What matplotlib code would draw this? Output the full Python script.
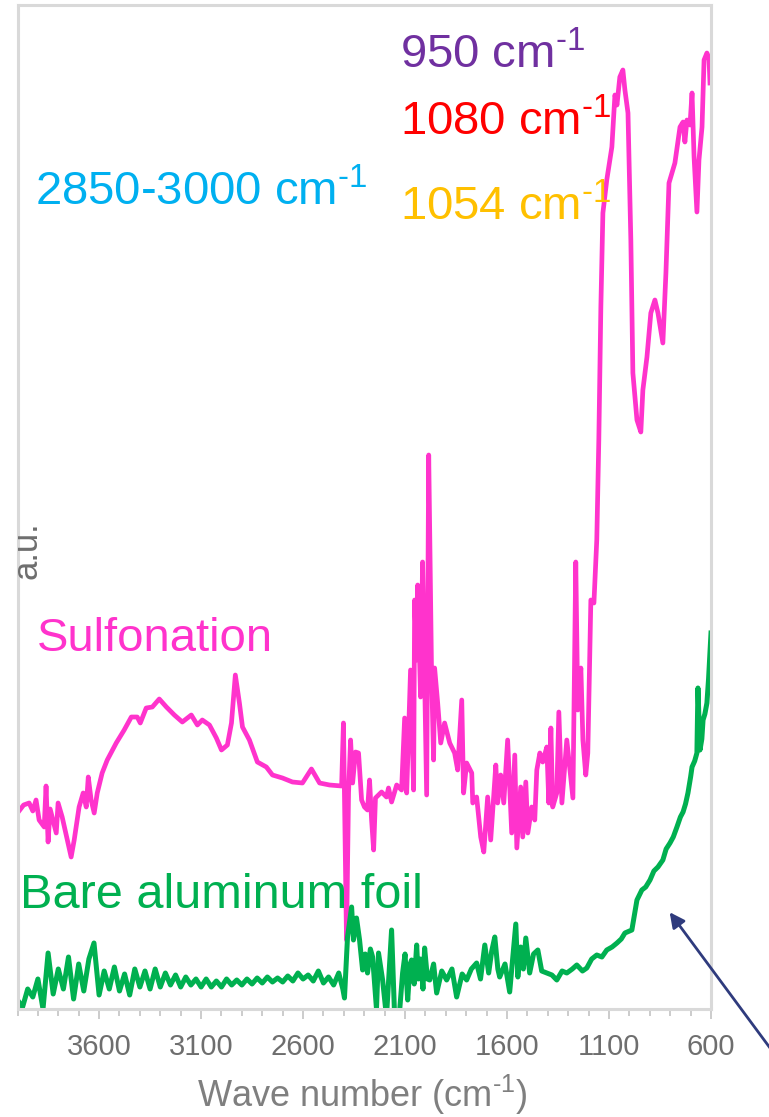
import numpy as np
import matplotlib.pyplot as plt

plt.rcParams['font.family'] = ['Liberation Sans', 'DejaVu Sans']
plt.rcParams['mathtext.fontset'] = 'custom'
plt.rcParams['mathtext.rm'] = 'Liberation Sans'
plt.rcParams['mathtext.it'] = 'Liberation Sans'

# sulfonated sample (wave number, a.u.)
sulf_wn = [4000, 3985, 3970, 3943, 3925, 3909, 3894, 3869, 3860, 3850, 3840, 3830, 3810, 3801,
           3781, 3756, 3737, 3722, 3698, 3678, 3663, 3653, 3639, 3624, 3609, 3585, 3560, 3516,
           3477, 3442, 3413, 3398, 3369, 3339, 3305, 3270, 3231, 3192, 3148, 3118, 3094, 3059,
           3025, 3000, 2971, 2951, 2932, 2912, 2897, 2863, 2824, 2780, 2750, 2701, 2652, 2603,
           2559, 2519, 2470, 2411, 2402, 2387, 2377, 2367, 2357, 2343, 2328, 2313, 2299, 2284,
           2274, 2264, 2254, 2245, 2215, 2191, 2181, 2166, 2141, 2117, 2102, 2092, 2073, 2058,
           2053, 2043, 2038, 2024, 2014, 1994, 1984, 1970, 1960, 1955, 1940, 1925, 1906, 1881,
           1857, 1842, 1822, 1813, 1798, 1773, 1768, 1749, 1729, 1714, 1695, 1680, 1655, 1646,
           1631, 1616, 1597, 1577, 1562, 1552, 1533, 1523, 1508, 1498, 1479, 1464, 1454, 1439,
           1425, 1405, 1395, 1385, 1376, 1356, 1346, 1331, 1307, 1277, 1263, 1253, 1238, 1228,
           1214, 1204, 1189, 1174, 1160, 1150, 1140, 1130, 1111, 1086, 1071, 1061, 1047, 1032,
           1022, 1007, 993, 983, 963, 944, 934, 914, 895, 875, 860, 836, 821, 806, 777, 752,
           737, 728, 718, 703, 693, 683, 669, 659, 644, 634, 620, 610, 605]
sulf_val = [196, 200, 204, 206, 198, 209, 189, 182, 223, 167, 200, 192, 176, 206,
            192, 169, 152, 169, 202, 216, 202, 232, 209, 196, 216, 236, 249, 266,
            279, 292, 292, 286, 301, 302, 310, 302, 294, 287, 294, 284, 289, 284,
            271, 259, 264, 286, 334, 306, 282, 269, 247, 242, 234, 231, 227, 226,
            240, 226, 224, 223, 286, 69, 216, 269, 226, 257, 256, 209, 202, 199,
            229, 189, 159, 211, 217, 212, 221, 207, 224, 219, 291, 216, 339, 219,
            409, 349, 424, 312, 447, 214, 554, 336, 249, 341, 306, 266, 286, 266,
            256, 239, 309, 216, 246, 236, 206, 212, 172, 157, 212, 169, 244, 206,
            234, 206, 269, 176, 254, 161, 222, 172, 227, 176, 202, 189, 239, 256,
            247, 262, 206, 281, 202, 216, 297, 206, 269, 211, 447, 299, 341, 269,
            234, 256, 409, 406, 469, 569, 702, 796, 829, 862, 914, 904, 932, 939,
            919, 896, 769, 636, 589, 577, 619, 652, 696, 709, 696, 666, 736, 826, 846, 882,
            887, 867, 889, 884, 916, 852, 797, 849, 882, 949, 956, 951, 926]

# bare aluminum foil
foil_wn = [4000, 3975, 3950, 3925, 3900, 3875, 3850, 3825, 3800, 3775, 3750, 3725, 3700, 3675,
           3650, 3625, 3600, 3575, 3550, 3525, 3500, 3475, 3450, 3425, 3400, 3375, 3350, 3325,
           3300, 3275, 3250, 3225, 3200, 3175, 3150, 3125, 3100, 3075, 3050, 3025, 3000, 2975,
           2950, 2925, 2900, 2875, 2850, 2825, 2800, 2775, 2750, 2725, 2700, 2675, 2650, 2625,
           2600, 2575, 2550, 2525, 2500, 2475, 2450, 2425, 2405, 2397, 2382, 2362, 2353,
           2338, 2323, 2308, 2295, 2284, 2270, 2259, 2240, 2230, 2210, 2191, 2166, 2151, 2127,
           2112, 2100, 2087, 2075, 2068, 2055, 2043, 2035, 2024, 2012, 2004, 1990, 1979, 1960,
           1945, 1920, 1896, 1870, 1847, 1820, 1798, 1775, 1749, 1730, 1709, 1690, 1675, 1660,
           1645, 1636, 1610, 1587, 1557, 1547, 1533, 1520, 1508, 1489, 1470, 1449, 1430, 1405,
           1380, 1356, 1330, 1307, 1280, 1258, 1230, 1209, 1185, 1160, 1135, 1111, 1085, 1061,
           1040, 1022, 988, 963, 939, 920, 899, 880, 860, 836, 820, 801, 785, 767, 750, 737,
           725, 713, 700, 693, 680, 669, 664, 654, 645, 639, 630, 620, 612, 605, 600]
foil_val = [9, 2, 20, 12, 30, 0, 56, 15, 40, 20, 52, 10, 45, 18,
            50, 66, 14, 38, 20, 42, 18, 35, 14, 40, 22, 38, 20, 40,
            22, 36, 24, 34, 22, 32, 24, 30, 22, 30, 22, 28, 22, 30,
            24, 29, 24, 30, 25, 31, 26, 32, 27, 31, 27, 33, 28, 36,
            30, 34, 28, 38, 26, 32, 24, 36, 20, 11, 72, 102, 69,
            91, 69, 39, 55, 36, 60, 52, 0, 56, 29, -8, 79, -8, -3,
            36, 55, 9, 45, 49, 25, 64, 30, 50, 20, 61, 30, 29, 45,
            16, 38, 29, 40, 12, 35, 29, 40, 46, 30, 64, 36, 58, 72,
            40, 32, 45, 17, 85, 32, 62, 40, 71, 36, 55, 59, 38, 36,
            34, 29, 38, 36, 40, 44, 38, 41, 50, 54, 52, 59, 62, 66,
            70, 76, 79, 109, 119, 122, 129, 138, 142, 149, 160, 166, 172, 182, 192, 197,
            205, 216, 232, 242, 248, 256, 321, 259, 270, 289, 295, 306, 330, 356, 376]

major_ticks = [3600, 3100, 2600, 2100, 1600, 1100, 600]

W, H = 769, 1117
fig = plt.figure(figsize=(W / 100, H / 100), dpi=100)
ax = fig.add_axes([17.5 / W, (H - 1009) / H, (711 - 17.5) / W, (1009 - 5) / H])

ax.plot(sulf_wn, sulf_val, color='#ff33cc', lw=3.4, solid_joinstyle='round')
ax.plot(foil_wn, foil_val, color='#00b050', lw=3.6, solid_joinstyle='round')

ax.set_xlim(4000, 600)
ax.set_ylim(0, 1004)
ax.set_xticks(major_ticks)
ax.set_xticks(np.arange(600, 4001, 100), minor=True)
ax.set_yticks([])
for s in ax.spines.values():
    s.set_color('#d9d9d9')
    s.set_linewidth(2.2)
ax.tick_params(axis='x', which='major', length=7, width=1.3, color='#c8c8c8',
               labelsize=21, labelcolor='#6e6e6e', pad=10)
ax.tick_params(axis='x', which='minor', length=5, width=1.3, color='#c8c8c8')

sup = r'$^{\text{-1}}$'


def ftext(x, y, s, **kw):
    fig.text(x / W, 1 - y / H, s, va='baseline', ha='left', **kw)


ftext(400, 68, '950 cm' + sup, color='#7030a0', fontsize=34)
ftext(400, 135, '1080 cm' + sup, color='#ff0000', fontsize=34)
ftext(400, 220, '1054 cm' + sup, color='#ffc000', fontsize=34)
ftext(35, 205, '2850-3000 cm' + sup, color='#00b0f0', fontsize=34)
ftext(37, 651, 'Sulfonation', color='#ff33cc', fontsize=34)
ftext(20, 908, 'Bare aluminum foil', color='#00b050', fontsize=35)

fig.text(362 / W, 1 - 1095 / H, 'Wave number (cm' + sup + ')', ha='center', va='center',
         color='#7f7f7f', fontsize=26)
fig.text(27 / W, 1 - 550 / H, 'a.u.', rotation=90, ha='center', va='center',
         color='#6e6e6e', fontsize=25)

ax.annotate('', xy=(668, H - 910), xycoords='figure pixels',
            xytext=(790, H - 1075), textcoords='figure pixels',
            arrowprops=dict(arrowstyle='-|>,head_length=0.9,head_width=0.45',
                            color='#2f3b7d', lw=2),
            annotation_clip=False)

fig.savefig('out.png', dpi=100)
